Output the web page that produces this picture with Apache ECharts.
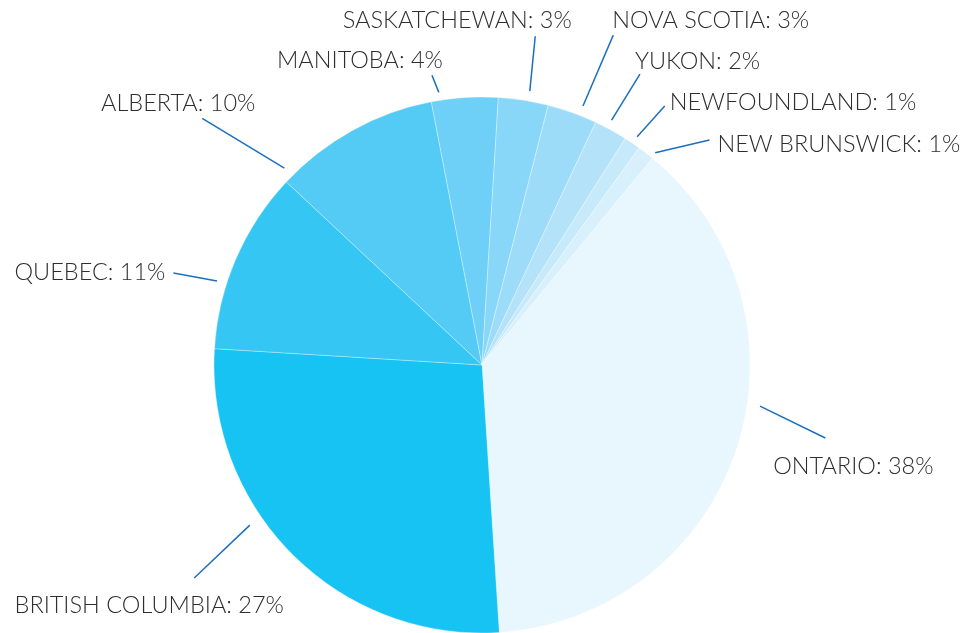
<!DOCTYPE html>
<html>
<head>
<meta charset="utf-8">
<script src="https://cdn.jsdelivr.net/npm/echarts@6/dist/echarts.min.js"></script>
<style>
  html, body { margin: 0; padding: 0; background: #fff; }
  #chart { width: 964px; height: 633px; }
</style>
</head>
<body>
<div id="chart"></div>
<script>
const provinces = ['ONTARIO', 'BRITISH COLUMBIA', 'QUEBEC', 'ALBERTA', 'MANITOBA',
    'SASKATCHEWAN', 'NOVA SCOTIA', 'YUKON', 'NEWFOUNDLAND', 'NEW BRUNSWICK'];
const shares = [38, 27, 11, 10, 4, 3, 3, 2, 1, 1];
const sliceColors = ['#e8f6fd', '#16c3f3', '#36c6f4', '#53cbf5', '#6fd0f7',
    '#88d6f8', '#9ddcf8', '#b3e2f9', '#c6eafa', '#d8f0fb'];

// pie geometry
const cx = 482, cy = 365, R = 268;

// leader lines: angle (deg clockwise from top) and radius of both ends, then label anchor
const leaders = [
    { a0: 98.4, r0: 281, a1: 102.0, r1: 351, align: 'center', dx: 28, dy: 28 },
    { a0: 235.4, r0: 282, a1: 233.5, r1: 358, align: 'center', dx: -45, dy: 27 },
    { a0: 287.6, r0: 278, a1: 286.6, r1: 322, align: 'right', dx: -8, dy: -1 },
    { a0: 314.9, r0: 279, a1: 311.4, r1: 373, align: 'center', dx: -24, dy: -15 },
    { a0: 351.0, r0: 276, a1: 350.2, r1: 294, align: 'center', dx: -72, dy: -15 },
    { a0: 9.9, r0: 278, a1: 9.2, r1: 333, align: 'center', dx: -78, dy: -16 },
    { a0: 21.3, r0: 278, a1: 21.7, r1: 355, align: 'left', dx: -1, dy: -15 },
    { a0: 27.9, r0: 277, a1: 28.5, r1: 331, align: 'left', dx: -5, dy: -13 },
    { a0: 34.2, r0: 276, a1: 35.2, r1: 317, align: 'left', dx: 5, dy: -4 },
    { a0: 39.2, r0: 274, a1: 45.3, r1: 320, align: 'left', dx: 8, dy: 5 }
];

function polar(a, r) {
    const t = a * Math.PI / 180;
    return [cx + r * Math.sin(t), cy - r * Math.cos(t)];
}

let data = [];
for (let i = 0; i < provinces.length; i++) {
    data.push({ name: provinces[i], value: shares[i], itemStyle: { color: sliceColors[i] } });
}

const chart = echarts.init(document.getElementById('chart'));
chart.setOption({
    animation: false,
    series: [
        {
            type: 'pie',
            center: [cx, cy],
            radius: R,
            startAngle: 50.5,
            clockwise: true,
            avoidLabelOverlap: false,
            data: data,
            itemStyle: {
                borderColor: 'rgba(255,255,255,0.3)',
                borderWidth: 1
            },
            label: {
                show: true,
                position: 'outside',
                formatter: '{b}: {c}%',
                fontFamily: 'Lato',
                fontWeight: 300,
                fontSize: 23.5,
                color: '#2e2e2e'
            },
            labelLine: {
                show: true,
                length: 20,
                length2: 0,
                lineStyle: { color: '#1c6fbf', width: 1.5 }
            },
            labelLayout: function (params) {
                const L = leaders[params.dataIndex];
                const s = polar(L.a0, L.r0);
                const e = polar(L.a1, L.r1);
                return {
                    x: e[0] + L.dx,
                    y: e[1] + L.dy,
                    align: L.align,
                    verticalAlign: 'middle',
                    labelLinePoints: [s, e, e]
                };
            }
        }
    ]
});
</script>
</body>
</html>
